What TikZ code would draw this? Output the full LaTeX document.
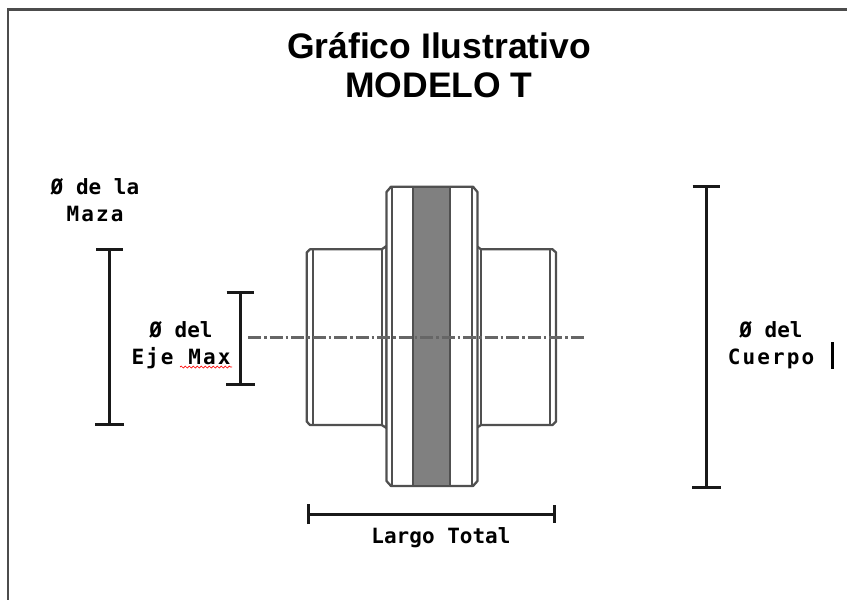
\documentclass[tikz,border=0pt]{standalone}
\usepackage{fontspec}
\setmainfont{Liberation Sans}
\newfontfamily\labelfont{DejaVu Sans Mono}
\newfontfamily\widefont[LetterSpace=10]{DejaVu Sans Mono}
\usepackage{xcolor}
\usepackage{tikz}
\usetikzlibrary{arrows.meta, decorations.pathmorphing}
\definecolor{partline}{HTML}{505050}
\definecolor{bandgray}{HTML}{808080}

\begin{document}
\begin{tikzpicture}
[x=1pt, y=-1pt,
frameline/.style={draw=black!70, line width=2.2pt},
outline/.style={draw=partline, line width=2.3pt, fill=white, line join=round},
thinline/.style={draw=partline, line width=2pt},
axisline/.style={draw=black!60, line width=2.4pt, dash pattern=on 13pt off 3pt on 2.5pt off 3pt},
dimbar/.style={draw=black!90, line width=3pt, {Bar[width=27pt,line width=3pt]}-{Bar[width=29pt,line width=3pt]}},
dimbarh/.style={draw=black!90, line width=3pt, {Bar[width=20pt,line width=3pt]}-{Bar[width=18pt,line width=3pt]}},
dimlabel/.style={font=\labelfont\bfseries\fontsize{21}{27.5}\selectfont, align=center, text=black, inner sep=0pt},
title/.style={font=\bfseries\fontsize{35.5}{39}\selectfont, align=center, text=black, inner sep=0pt},
]
\useasboundingbox (0,0) rectangle (847,600);

% frame
\coordinate (frameBL) at (8,600);
\coordinate (frameTL) at (8,9.5);
\coordinate (frameTR) at (847,9.5);
\draw[frameline] (frameBL) -- (frameTL) -- (frameTR);

\node[title] (heading) at (439,65) {Gráfico Ilustrativo\\MODELO T};

% hubs
\draw[outline] (386.5,246) -- (381.7,249.3) -- (310,249.3) -- (306.7,252.5) -- (306.7,421.5) -- (310,425) -- (381.7,425) -- (386.5,428) -- cycle;
\draw[outline] (476.5,246) -- (481,249.3) -- (552.5,249.3) -- (556,252.5) -- (556,421.5) -- (552.5,425) -- (481,425) -- (476.5,428) -- cycle;
\draw[thinline] (312.5,249.3) -- (312.5,425);
\draw[thinline] (381.7,249.3) -- (381.7,425);
\draw[thinline] (481,249.3) -- (481,425);
\draw[thinline] (550,249.3) -- (550,425);

% body
\draw[outline] (391,186.7) -- (473,186.7) -- (477.5,192) -- (477.5,481) -- (473,486) -- (391,486) -- (386.5,481) -- (386.5,192) -- cycle;
\draw[thinline] (391.5,186.7) -- (391.5,486);
\draw[thinline] (472,186.7) -- (472,486);
\draw[thinline, fill=bandgray] (413.3,186.7) rectangle (450,486);

% axis
\coordinate (axisL) at (248,337.5);
\coordinate (axisR) at (586,337.5);
\draw[axisline] (axisL) -- (axisR);

% dimensions
\coordinate (mazaT) at (109.5,248);
\coordinate (mazaB) at (109.5,426);
\coordinate (ejeT) at (240,291);
\coordinate (ejeB) at (240,386);
\coordinate (cuerpoT) at (706,184.5);
\coordinate (cuerpoB) at (706,489);
\coordinate (largoL) at (307,514);
\coordinate (largoR) at (556,514);
\draw[dimbar] (mazaT) -- (mazaB);
\draw[dimbar] (ejeT) -- (ejeB);
\draw[dimbar] (cuerpoT) -- (cuerpoB);
\draw[dimbarh] (largoL) -- (largoR);

\node[dimlabel] (maza) at (95,200) {Ø de la\\{\widefont\bfseries Maza}};
\node[dimlabel] (eje) at (181,345) {Ø del\\{\widefont\bfseries Eje Max}};
\node[dimlabel] (cuerpo) at (771,345) {Ø del\\{\widefont\bfseries Cuerpo}};
\node[dimlabel] (largo) at (441,538) {Largo Total};

% spelling mark and caret
\coordinate (markL) at (180,367);
\coordinate (markR) at (232,367);
\draw[red, line width=.7pt, decorate, decoration={snake, amplitude=1pt, segment length=4pt}] (markL) -- (markR);
\coordinate (caretT) at (832.7,342);
\coordinate (caretB) at (832.7,369);
\draw[black, line width=2.6pt] (caretT) -- (caretB);
\end{tikzpicture}
\end{document}
